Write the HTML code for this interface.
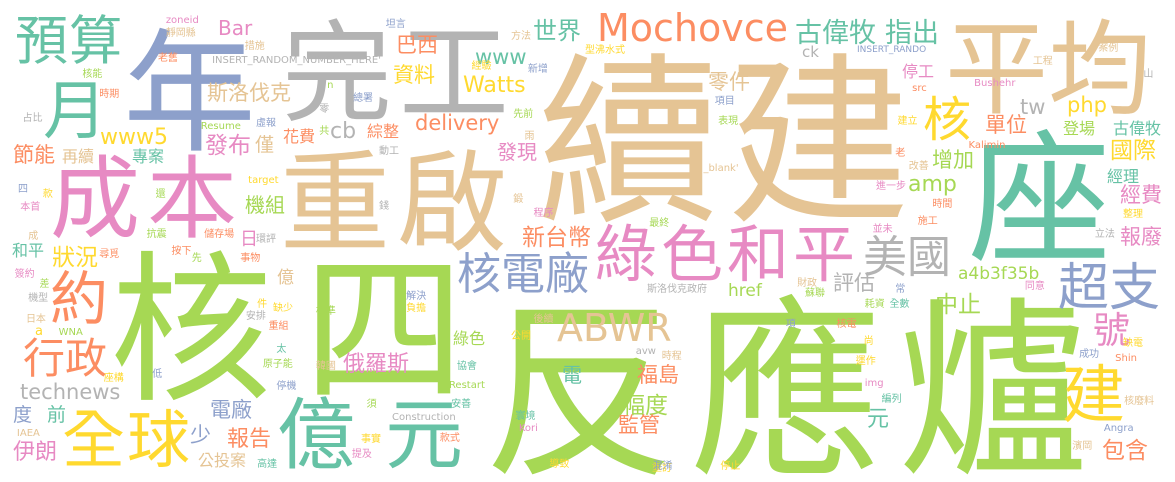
<!DOCTYPE html>
<html><head><meta charset="utf-8">
<style>
html,body{margin:0;padding:0;background:#fff;}
#cloud{position:relative;width:1175px;height:482px;overflow:hidden;background:#fff;}
.w{position:absolute;white-space:nowrap;line-height:1;font-family:"Noto Sans CJK TC","Noto Sans CJK SC",sans-serif;}
.lt{font-family:"DejaVu Sans","Liberation Sans",sans-serif;}
</style></head>
<body>
<div id="cloud"></div>
<script>
const G='#66c2a5',O='#fc8d62',B='#8da0cb',P='#e78ac3',L='#a6d854',Y='#ffd92f',T='#e5c494',R='#b3b3b3';
// [text, x, visualTop, size, color, latin, letterSpacing]
const bigWords=[
['核四',110,242,162,L,0,31],['反應爐',483,288,192,L,0,15],['續建',537,43,183,T,0,7],['重啟',280,143,110,T,0,7],
['完工',282,13,110,R,0,7],['年',123,22,133,B],['成本',50,150,90,P,0,7],['預算',15,13,53,G,0,1],['月',43,77,64,G],
['約',50,267,58,O],['行政',23,337,42,O],['全球',62,407,63,Y,0,2],['億元',277,393,78,G,0,30],['核電廠',457,250,44,B],
['綠色和平',595,220,62,P,0,4],['美國',863,233,44,R],['座',968,123,143,G],['平均',945,13,103,T],['超支',1058,260,51,B],
['建',1062,362,63,Y],['號',1093,310,37,P],
['Mochovce',597,13,38,O,1],['ABWR',557,313,38,T,1],['technews',20,384,21,R,1],
['古偉牧',795,18,27,G],['指出',885,18,27,G],['核',923,93,48,Y],['tw',1020,99,21,R,1],['php',1067,97,21,Y,1],
['單位',985,115,21,O],['登場',1063,120,16,L],['古偉牧',1113,120,16,G],['國際',1110,138,23,Y],['增加',932,150,21,L],
['amp',908,176,22,L,1],['經理',1107,168,16,G],['經費',1120,185,21,P],['報廢',1120,227,21,P],['a4b3f35b',958,268,17,L,1],
['中止',935,292,23,L],['評估',833,273,21,R],['href',728,285,17,L,1],['包含',1102,438,23,O],['零件',708,72,21,T],
['福島',637,365,21,O],['幅度',622,393,23,L],['監管',618,415,21,O],['元',867,407,22,G],['停工',902,63,16,P],
['ck',802,47,15,R,1],['INSERT_RANDO',857,47,9,B,1],
['Bar',218,20,20,P,1],['巴西',396,35,21,O],['世界',533,18,24,G],['www',475,49,21,G,1],['資料',393,65,21,Y],
['Watts',463,77,22,Y,1],['斯洛伐克',207,83,21,T],['www5',100,129,22,Y,1],['delivery',415,115,21,O,1],['cb',330,123,22,R,1],
['發布',205,133,23,P],['僅',255,135,19,T],['花費',283,128,16,O],['綜整',367,123,16,O],['發現',497,142,20,P],
['節能',13,145,21,O],['再續',62,148,16,T],['專案',132,148,16,G],['機組',245,195,20,L],['新台幣',522,225,23,O],
['狀況',52,245,23,Y],['和平',12,242,16,G],['日',240,230,18,P],['綠色',453,330,16,L],['俄羅斯',343,352,22,P],
['電',562,365,20,G],['電廠',210,400,21,B],['度',13,405,19,B],['前',47,405,19,G],['伊朗',13,440,22,P],
['少',190,425,21,B],['報告',227,427,22,O],['公投案',198,452,16,T],['Construction',392,414,10,R,1],
['億',277,268,17,T],['a',35,326,13,Y,1],['斯洛伐克政府',647,283,10,R]
];
// small words, x in compressed coords (mapped below)
const smallWords=[
['zoneid',147,17,P,1],['靜岡縣',147,27,T],['措施',217,40,T],['老舊',140,52,O],
['INSERT_RANDOM_NUMBER_HERE\'',188,57,R,1],['核能',73,68,L],['時期',88,88,O],['占比',20,112,R],
['Resume',178,123,L,1],['虛報',227,117,B],['共',283,125,L],['n',290,82,L,1],['總署',313,92,B],['零',283,103,R],
['坦言',342,18,B],['方法',453,30,T],['經驗',418,60,Y],['新增',468,63,B],['先前',455,108,L],['雨',465,130,T],
['動工',336,145,R],['target',220,177,Y,1],['四',16,183,B],['款',38,188,Y],['本首',18,201,P],['還',138,188,L],
['錢',336,200,R],['鍛',455,193,T],['程序',473,207,P],['成',25,230,T],['抗震',130,228,L],['儲存場',181,228,O],
['環評',227,233,R],['按下',152,245,O],['先',170,252,L],['事物',213,252,O],['尋覓',88,248,O],['簽約',13,268,P],
['差',35,278,L],['機型',25,292,R],['件',228,298,Y],['缺少',242,302,Y],['安排',218,310,R],
['解決',360,290,B],['負擔',360,302,Y],['標準',280,305,L],['日本',23,313,T],['WNA',52,329,L,1],
['重組',238,320,O],['後續',473,313,T],['公開',453,330,Y],['太',245,343,G],['原子能',233,358,L],['韓國',280,360,T],
['協會',405,360,G],['座構',92,372,Y],['低',135,368,B],['停機',245,380,B],['Restart',398,382,L,1],['須',325,398,L],
['安善',400,398,G],['寰境',457,410,G],['IAEA',15,430,T,1],['款式',390,432,O],['Kori',460,425,P,1],['事實',320,433,Y],
['提及',312,448,P],['高達',228,458,G],['導致',487,458,Y],['重訂',578,462,Y],['混淆',645,460,B],['停止',705,460,Y],
['型沸水式',585,44,Y],['案例',1040,42,T],['工程',982,55,T],
['山',1080,68,R],['Bushehr',930,80,P,1],['src',875,85,O,1],['項目',700,95,B],['設施',1142,92,P],['表現',703,115,L],
['建立',862,115,Y],['Kalimin',925,142,O,1],['老',860,147,O],['改善',872,160,T],['_blank\'',690,165,T,1],
['進一步',843,180,P],['時間',893,198,O],['整理',1062,208,Y],['最終',642,217,L],['施工',880,215,O],['並未',840,223,P],
['立法',1037,228,R],['財政',773,277,T],['蘇聯',780,287,L],['常',860,283,B],['同意',975,280,P],
['耗資',833,298,L],['全數',855,298,G],['項',763,318,B],['核電',808,318,O],['尚',832,335,Y],['缺電',1062,337,Y],
['avw',630,348,R,1],['時程',653,350,T],['成功',1023,348,B],['運作',825,355,Y],['Shin',1055,355,O,1],['img',833,380,P,1],
['編列',848,393,G],['核廢料',1063,395,T],['Angra',1045,425,B,1],['濱岡',1017,440,T]
];
const root=document.getElementById('cloud');
function add(text,x,y,size,color,latin,ls){
  const d=document.createElement('div');
  d.className=latin?'w lt':'w';
  d.textContent=text;
  const k=latin?0.11:0.04;
  d.style.left=x+'px';
  d.style.top=(y-k*size)+'px';
  d.style.fontSize=size+'px';
  d.style.color=color;
  if(ls)d.style.letterSpacing=ls+'px';
  
  
  root.appendChild(d);
}
for(const w of bigWords){add(w[0],w[1],w[2],w[3],w[4],w[5],w[6]);}
for(const w of smallWords){
  const x=w[1]<585?w[1]*1.128:585+(w[1]-585)*1.128;
  add(w[0],x,w[2],10,w[3],w[4],0);
}
</script>
</body></html>
